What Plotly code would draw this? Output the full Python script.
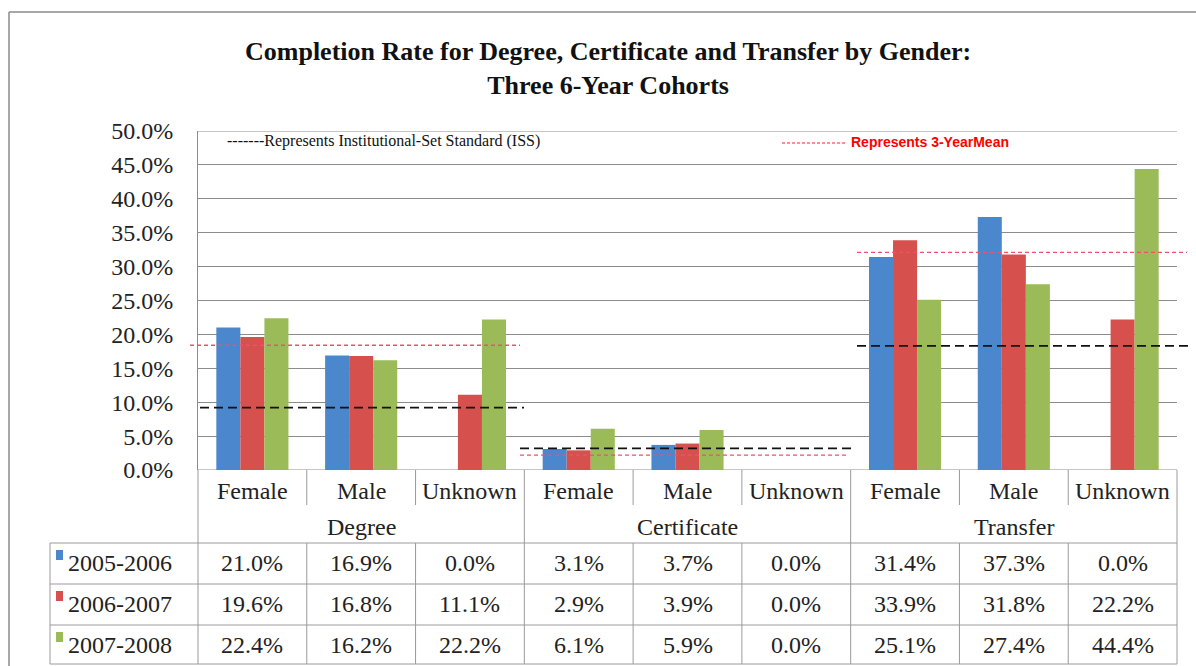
import plotly.graph_objects as go

# ---------------- data ----------------
groups = ["Degree", "Certificate", "Transfer"]
subcats = ["Female", "Male", "Unknown"]
series_names = ["2005-2006", "2006-2007", "2007-2008"]
vals_2005 = [21.0, 16.9, 0.0, 3.1, 3.7, 0.0, 31.4, 37.3, 0.0]
vals_2006 = [19.6, 16.8, 11.1, 2.9, 3.9, 0.0, 33.9, 31.8, 22.2]
vals_2007 = [22.4, 16.2, 22.2, 6.1, 5.9, 0.0, 25.1, 27.4, 44.4]
iss_values = [9.2, 3.2, 18.3]        # Institutional-Set Standard per group
mean3_values = [18.4, 2.2, 32.1]     # 3-year mean per group
y_ticks = [0, 5, 10, 15, 20, 25, 30, 35, 40, 45, 50]

series = [vals_2005, vals_2006, vals_2007]
colors = ["#4B87CD", "#D6504D", "#9BBB59"]

W, H = 1196, 666
def px(x):
    return x / W
def py(y):
    return 1 - y / H

# plot area in pixels
X0, X1 = 198, 1177
Y_TOP, Y_BOT = 131, 470

n_cat = len(groups) * len(subcats)
cat_x = list(range(n_cat))
cat_labels = [s for g in groups for s in subcats]
xr = (-0.5, n_cat - 0.5)

def x_to_px(xd):
    return X0 + (xd - xr[0]) / (xr[1] - xr[0]) * (X1 - X0)

fig = go.Figure()
for name, vals, col in zip(series_names, series, colors):
    fig.add_trace(go.Bar(x=cat_x, y=vals, name=name, marker=dict(color=col, line=dict(width=0)),
                         hoverinfo="skip"))

serif = "Liberation Serif, Times New Roman, serif"
FS = 24
shapes = []
annotations = []

def ann(text, x, y, xref="paper", size=FS, color="#222", xanchor="center", family=serif, align="center"):
    annotations.append(dict(text=text, x=x, y=y, xref=xref, yref="paper", showarrow=False,
                            xanchor=xanchor, yanchor="middle", align=align,
                            font=dict(family=family, size=size, color=color)))

# title
ann("<b>Completion Rate for Degree, Certificate and Transfer by Gender:<br>Three 6-Year Cohorts</b>",
    px(608), py(68), size=26, color="#111")

# note texts
ann("-------Represents Institutional-Set Standard (ISS)", px(225), py(141), size=16, color="#111", xanchor="left")
shapes.append(dict(type="line", xref="paper", yref="paper", x0=px(782), x1=px(846), y0=py(143), y1=py(143),
                   line=dict(color="#FF2020", width=1, dash="3px,2px")))
ann("<b>Represents 3-YearMean</b>", px(849), py(142), size=14, color="#FF0000", xanchor="left",
    family="Liberation Sans Narrow, Arial Narrow, Liberation Sans, Arial")

# ISS and mean lines for each group (x extents in pixels)
line_extents = [(200, 524, 190, 520), (520, 853, 520, 848), (857, 1192, 857, 1187)]
for gi, g in enumerate(groups):
    bx0, bx1, rx0, rx1 = line_extents[gi]
    shapes.append(dict(type="line", xref="paper", yref="y", x0=px(rx0), x1=px(rx1),
                       y0=mean3_values[gi], y1=mean3_values[gi],
                       line=dict(color="#F0506A", width=1.3, dash="4px,3px"), layer="above"))
    shapes.append(dict(type="line", xref="paper", yref="y", x0=px(bx0), x1=px(bx1),
                       y0=iss_values[gi], y1=iss_values[gi],
                       line=dict(color="#111", width=1.8, dash="9px,5px"), layer="above"))

# outer border of chart
shapes.append(dict(type="line", xref="paper", yref="paper", x0=px(9), x1=1, y0=py(12), y1=py(12),
                   line=dict(color="#8a8a8a", width=1.5)))
shapes.append(dict(type="line", xref="paper", yref="paper", x0=px(9), x1=px(9), y0=py(12), y1=0,
                   line=dict(color="#8a8a8a", width=1.5)))

# table lines
tc = "#9a9a9a"
def hline(y, xa, xb):
    shapes.append(dict(type="line", xref="paper", yref="paper", x0=px(xa), x1=px(xb), y0=py(y), y1=py(y),
                       line=dict(color=tc, width=1)))
def vline(x, ya, yb):
    shapes.append(dict(type="line", xref="paper", yref="paper", x0=px(x), x1=px(x), y0=py(ya), y1=py(yb),
                       line=dict(color=tc, width=1)))

row_lines = [543, 584, 625, 664]
for y in row_lines:
    hline(y, 50, X1)
vline(50, 543, 664)
for i in range(n_cat + 1):
    xb = x_to_px(i - 0.5)
    if i % 3 == 0:
        vline(xb, Y_BOT, 664)
    else:
        vline(xb, Y_BOT, 505)
        vline(xb, 543, 664)

# category labels
for i, lab in enumerate(cat_labels):
    ann(lab, cat_x[i], py(491), xref="x")
for gi, g in enumerate(groups):
    ann(g, cat_x[gi * 3 + 1], py(527), xref="x")

# table rows
row_y = [563, 604, 645]
for si, (name, vals, col) in enumerate(zip(series_names, series, colors)):
    yy = row_y[si]
    shapes.append(dict(type="rect", xref="paper", yref="paper", x0=px(56), x1=px(63), y0=py(yy - 3), y1=py(yy - 13),
                       fillcolor=col, line=dict(width=0)))
    ann(name, px(66), py(yy), xanchor="left")
    for i, v in enumerate(vals):
        ann(f"{v:.1f}%", cat_x[i], py(yy), xref="x")

# bottom axis line and top gridline
shapes.append(dict(type="line", xref="paper", yref="y", x0=px(X0), x1=px(X1), y0=y_ticks[0], y1=y_ticks[0],
                   line=dict(color="#8c8c8c", width=1), layer="below"))
shapes.append(dict(type="line", xref="paper", yref="y", x0=px(X0), x1=px(X1), y0=y_ticks[-1], y1=y_ticks[-1],
                   line=dict(color="#8c8c8c", width=1), layer="below"))

fig.update_layout(
    width=W, height=H,
    margin=dict(l=0, r=0, t=0, b=0, autoexpand=False),
    paper_bgcolor="white", plot_bgcolor="white",
    barmode="group", bargap=0.337, bargroupgap=0,
    showlegend=False,
    xaxis=dict(domain=[px(X0), px(X1)], range=list(xr), showticklabels=False, showgrid=False,
               zeroline=False, showline=False, fixedrange=True, automargin=False),
    yaxis=dict(domain=[py(Y_BOT), py(Y_TOP)], range=[0, 50], tickvals=y_ticks,
               ticktext=[f"{t:.1f}%" for t in y_ticks], showgrid=True, gridcolor="#8c8c8c", gridwidth=1,
               zeroline=False, showline=True, linecolor="#8c8c8c", linewidth=1,
               tickfont=dict(family=serif, size=FS, color="#222"), ticklabelstandoff=19,
               fixedrange=True, automargin=False),
    shapes=shapes,
    annotations=annotations,
)

fig.write_html("out.html", config={"displayModeBar": False},
               post_script="document.body.style.margin='0';document.body.style.overflow='hidden';")
